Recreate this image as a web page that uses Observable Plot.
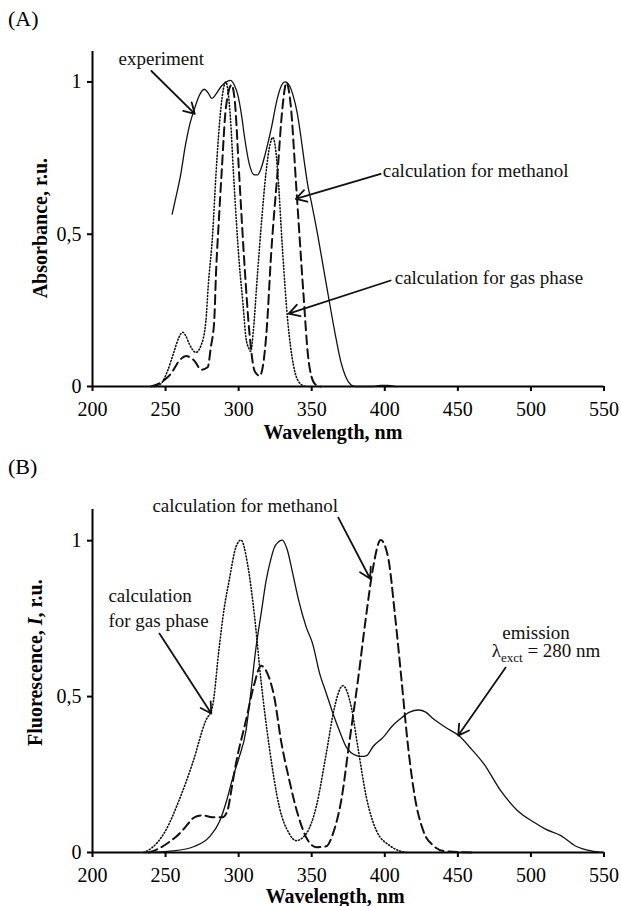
<!DOCTYPE html>
<html><head><meta charset="utf-8">
<script src="https://cdn.jsdelivr.net/npm/d3@7"></script>
<script src="https://cdn.jsdelivr.net/npm/@observablehq/plot@0.6"></script>
<style>
body{margin:0;background:#fff;}
#wrap{position:relative;width:621px;height:906px;font-family:"Liberation Serif","Times New Roman",serif;color:#000;background:#fff;}
.panel{position:absolute;left:0;}
.plabel{position:absolute;font-size:22px;line-height:1;}
</style></head><body><div id="wrap"></div>
<script>
// ---------- data ----------
const xTicks = [200, 250, 300, 350, 400, 450, 500, 550];
const yTicks = [0, 0.5, 1];

// Panel A: absorbance
const absExpWl  = [254.5,257,260.5,263.5,266.5,270,273,276.5,279,281.7,284.5,288,291,294.3,297,299.3,302,304,307.3,310.7,313,315.3,318,322,326.7,329,331.9,334.5,337,340,342.6,345,347.2,350,354,358,362,366,370,373,377,380,392,397,402,407];
const absExpVal = [0.566,0.62,0.70,0.79,0.86,0.915,0.955,0.976,0.965,0.946,0.96,0.985,0.998,1.005,0.99,0.96,0.89,0.82,0.73,0.695,0.695,0.715,0.76,0.84,0.95,0.985,1.0,0.99,0.96,0.90,0.82,0.735,0.664,0.6,0.5,0.39,0.28,0.174,0.08,0.035,0.005,0,0,0.004,0.004,0];

const absMethWl  = [240,247,253.7,259.4,264,269.6,274.5,278.8,281,283.3,284.5,286.5,288.3,291.3,295.2,297.5,300.3,304,307.5,311,314.5,317,319,322.3,326.7,330,332.7,335.5,339.5,344.4,347.5,350,353,356];
const absMethVal = [0,0.014,0.042,0.085,0.10,0.085,0.055,0.063,0.13,0.216,0.37,0.55,0.697,0.916,0.99,0.93,0.70,0.40,0.17,0.05,0.035,0.08,0.174,0.44,0.71,0.916,0.998,0.93,0.65,0.3,0.1,0.03,0.005,0];

const absGasWl  = [242,247,251.4,256,259,261.8,264,266.2,270.8,274.2,277.6,279.2,282.2,284.5,287.9,291.2,294.4,296.5,300.5,303,305,307,308.3,310,312.9,316,318.6,321.5,323.4,325,326.8,330,333.5,337.5,342,346];
const absGasVal = [0,0.01,0.052,0.118,0.16,0.178,0.165,0.14,0.112,0.134,0.216,0.33,0.50,0.697,0.916,1.0,0.88,0.697,0.40,0.27,0.16,0.125,0.115,0.18,0.37,0.56,0.697,0.795,0.818,0.79,0.70,0.45,0.22,0.07,0.01,0];

// Panel B: fluorescence
const fluEmWl  = [236,255,270,280,287,292,296,300,305,308,311.9,315.5,318.8,322,324.5,327,329.8,333,337.1,341,346.3,350.6,355.5,360,364.6,369,373.8,377,380.7,384,387.6,392,399,405,410.5,417,423,428,433.4,442,450.6,459.6,467.8,479.2,490.7,502.1,510,520.5,530.4,541.3,549.5];
const fluEmVal = [0,0.005,0.02,0.05,0.1,0.17,0.24,0.3,0.39,0.5,0.658,0.77,0.872,0.94,0.979,0.995,1.002,0.975,0.893,0.81,0.722,0.67,0.573,0.51,0.445,0.39,0.337,0.32,0.311,0.308,0.311,0.34,0.37,0.405,0.428,0.45,0.457,0.45,0.428,0.40,0.375,0.33,0.284,0.199,0.135,0.097,0.075,0.054,0.021,0.005,0];

const fluMethWl  = [238.5,245,252.3,257,261.4,265,268.3,272,275.2,282,288.9,292.4,295,298.1,305,310.7,315.3,319.8,324.4,329,334.7,340.4,346.2,353,359.9,364.5,370.2,375.9,381.6,387.4,392,397.2,402.3,406.9,411.5,416,420.6,426.3,433.2,440,460];
const fluMethVal = [0,0.012,0.033,0.05,0.07,0.09,0.108,0.117,0.119,0.113,0.113,0.135,0.2,0.284,0.423,0.54,0.599,0.573,0.498,0.359,0.231,0.124,0.049,0.017,0.02,0.06,0.167,0.359,0.551,0.765,0.914,1.002,0.946,0.765,0.551,0.337,0.177,0.07,0.022,0.005,0];

const fluGasWl  = [235,238.5,244,250,259.2,268.3,277.5,282,286.7,290,293.5,298.1,301.6,306.1,310.7,315.3,321,327.9,334.7,339.3,346.2,353,359.9,365.6,371.3,377.1,381.6,387.4,394.3,403.4,410.3,415];
const fluGasVal = [0,0.008,0.03,0.07,0.167,0.284,0.423,0.466,0.658,0.78,0.872,0.979,1.002,0.925,0.765,0.551,0.337,0.145,0.06,0.038,0.06,0.145,0.316,0.466,0.535,0.466,0.337,0.177,0.07,0.022,0.005,0];

// annotations (data coordinates)
const notesAText = ["experiment", "calculation for methanol", "calculation for gas phase"];
const notesAX = [217.8, 398.6, 406.8];
const notesAY = [1.075, 0.708, 0.357];
const arrowsAX1 = [240.3, 397.2, 404.0];
const arrowsAY1 = [1.036, 0.698, 0.348];
const arrowsAX2 = [270.0, 339.1, 334.3];
const arrowsAY2 = [0.895, 0.616, 0.239];

const notesBText = ["calculation for methanol", "calculation", "for gas phase", "λexct = 280 nm"];
const notesBX = [241.0, 210.9, 210.9, 473.2];
const notesBY = [1.112, 0.824, 0.744, 0.647];
const notesBCenterText = ["emission"];
const notesBCenterX = [503.5];
const notesBCenterY = [0.705];
const arrowsBX1 = [368.2, 245.8, 482.7];
const arrowsBY1 = [1.074, 0.702, 0.593];
const arrowsBX2 = [390.0, 281.3, 450.2];
const arrowsBY2 = [0.878, 0.446, 0.375];

// ---------- helpers ----------
const zip = (xs, ys) => xs.map((x, i) => ({x, y: ys[i]}));
const FONT = '"Liberation Serif","Times New Roman",serif';
const solid = {stroke: "#111", strokeWidth: 1.3};
const dashed = {stroke: "#111", strokeWidth: 2, strokeDasharray: "9,5"};
const dotted = {stroke: "#111", strokeWidth: 1.6, strokeDasharray: "1,2.2"};

function makePanel(o) {
  const ax = d3.range(o.ax1.length).map(i => ({x1: o.ax1[i], y1: o.ay1[i], x2: o.ax2[i], y2: o.ay2[i]}));
  const marks = [
    Plot.axisX({ticks: xTicks, tickSize: 5, tickPadding: 10, strokeWidth: 2, label: null, tickFormat: d => String(d)}),
    Plot.axisY({ticks: yTicks, tickSize: 5, tickPadding: 6, strokeWidth: 2, label: null, tickFormat: d => String(d).replace(".", ",")}),
    Plot.ruleY([0], {x1: 200, x2: 550, stroke: "#000", strokeWidth: 2}),
    Plot.ruleX([200], {y1: 0, y2: 1.1, stroke: "#000", strokeWidth: 2}),
    ...o.lines.map(([data, style]) => Plot.line(data, {x: "x", y: "y", curve: "monotone-x", ...style})),
    Plot.arrow(ax, {x1: "x1", y1: "y1", x2: "x2", y2: "y2", stroke: "#111", strokeWidth: 1.8, headLength: 10, bend: 0}),
    Plot.text(o.notes, {x: "x", y: "y", text: "t", textAnchor: "start", fontSize: 19, fill: "#111"}),
    Plot.text(o.cnotes, {x: "x", y: "y", text: "t", textAnchor: "middle", fontSize: 19, fill: "#111"}),
    Plot.text(["Wavelength, nm"], {x: o.xLabelX, frameAnchor: "bottom", lineAnchor: "middle", textAnchor: "middle", dy: o.xLabelDy, fontWeight: "bold", fontSize: 20, fill: "#000"}),
    Plot.text([o.yLabel], {y: o.yLabelY, frameAnchor: "left", textAnchor: "middle", lineAnchor: "middle", dx: o.yLabelDx, rotate: -90, fontWeight: "bold", fontSize: 20, fill: "#000"})
  ];
  return Plot.plot({
    width: 621, height: o.height,
    marginLeft: 92, marginRight: 17.5, marginTop: o.marginTop, marginBottom: o.marginBottom,
    x: {domain: [200, 550]},
    y: {domain: [0, 1.1]},
    style: {fontFamily: FONT, fontSize: "20px", color: "#000", background: "none", overflow: "visible"},
    marks
  });
}

const wrap = document.getElementById("wrap");

const plotA = makePanel({
  height: 450, marginTop: 51, marginBottom: 64,
  lines: [[zip(absExpWl, absExpVal), solid], [zip(absMethWl, absMethVal), dashed], [zip(absGasWl, absGasVal), dotted]],
  notes: notesAText.map((t, i) => ({t, x: notesAX[i], y: notesAY[i]})),
  cnotes: [],
  ax1: arrowsAX1, ay1: arrowsAY1, ax2: arrowsAX2, ay2: arrowsAY2,
  xLabelX: 364.5, xLabelDy: 46,
  yLabel: "Absorbance, r.u.", yLabelY: 0.52, yLabelDx: -52
});
plotA.classList.add("panel");
plotA.style.top = "0px";
wrap.appendChild(plotA);

const plotB = makePanel({
  height: 466, marginTop: 69, marginBottom: 54,
  lines: [[zip(fluEmWl, fluEmVal), solid], [zip(fluMethWl, fluMethVal), dashed], [zip(fluGasWl, fluGasVal), dotted]],
  notes: notesBText.map((t, i) => ({t, x: notesBX[i], y: notesBY[i]})),
  cnotes: notesBCenterText.map((t, i) => ({t, x: notesBCenterX[i], y: notesBCenterY[i]})),
  ax1: arrowsBX1, ay1: arrowsBY1, ax2: arrowsBX2, ay2: arrowsBY2,
  xLabelX: 366, xLabelDy: 44,
  yLabel: "Fluorescence, I, r.u.", yLabelY: 0.609, yLabelDx: -56.5
});
plotB.classList.add("panel");
plotB.style.top = "440px";
wrap.appendChild(plotB);

// rich text: subscript and italic
const NS = "http://www.w3.org/2000/svg";
function tspan(txt, attrs) {
  const t = document.createElementNS(NS, "tspan");
  t.textContent = txt;
  for (const k in attrs) t.setAttribute(k, attrs[k]);
  return t;
}
plotB.querySelectorAll("text").forEach(el => {
  if (el.textContent === "λexct = 280 nm") {
    el.textContent = "";
    el.appendChild(tspan("λ", {}));
    el.appendChild(tspan("exct", {"font-size": 13, dy: 5}));
    el.appendChild(tspan(" = 280 nm", {dy: -5}));
  } else if (el.textContent === "Fluorescence, I, r.u.") {
    el.textContent = "";
    el.appendChild(tspan("Fluorescence, ", {}));
    el.appendChild(tspan("I", {"font-style": "italic"}));
    el.appendChild(tspan(", r.u.", {}));
  }
});

// panel letters
for (const [txt, top] of [["(A)", 8], ["(B)", 456]]) {
  const d = document.createElement("div");
  d.className = "plabel";
  d.textContent = txt;
  d.style.left = "8px";
  d.style.top = top + "px";
  wrap.appendChild(d);
}
</script></body></html>
